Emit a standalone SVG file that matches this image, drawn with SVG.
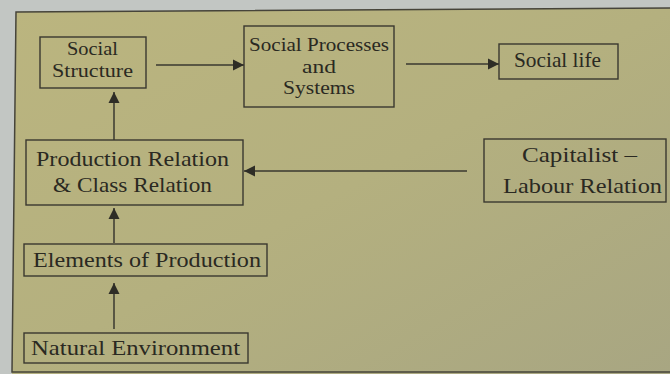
<svg xmlns="http://www.w3.org/2000/svg" width="670" height="374" viewBox="0 0 670 374">
<defs>
<linearGradient id="bg" x1="0" y1="0" x2="1" y2="1">
<stop offset="0" stop-color="#bbb57f"/>
<stop offset="0.5" stop-color="#b4b07f"/>
<stop offset="1" stop-color="#a8a682"/>
</linearGradient>
<marker id="ah" markerUnits="userSpaceOnUse" markerWidth="12" markerHeight="12" viewBox="0 0 12 12" refX="11" refY="6" orient="auto">
<path d="M0,0.5 L11,6 L0,11.5 Z" fill="#2e2d26"/>
</marker>
<style>
.box{fill:none;stroke:#3a382f;stroke-width:1.4}
.t{font-family:"Liberation Serif",serif;font-size:21.5px;fill:#2a2922}
.s{font-size:19px}
.c{stroke:#3a382f;stroke-width:1.5;fill:none;marker-end:url(#ah)}
</style>
</defs>
<rect x="0" y="0" width="670" height="374" fill="#c2c6c3"/>
<polygon points="16,12 670,8 670,374 12,374" fill="url(#bg)"/>
<polyline points="670,8 16,12 12,372 670,372" fill="none" stroke="#46443a" stroke-width="1.5"/>

<g id="connectors">
<line class="c" x1="156" y1="65" x2="244" y2="65"/>
<line class="c" x1="406" y1="64" x2="499" y2="64"/>
<line class="c" x1="467" y1="171" x2="244" y2="171"/>
<line class="c" x1="114" y1="140" x2="114" y2="92"/>
<line class="c" x1="114" y1="243" x2="114" y2="208"/>
<line class="c" x1="114" y1="329" x2="114" y2="283"/>
</g>

<g id="social-structure">
<rect class="box" x="40" y="37" width="106" height="51"/>
<text class="t s" x="67" y="55" textLength="51" lengthAdjust="spacingAndGlyphs">Social</text>
<text class="t s" x="52" y="77" textLength="81" lengthAdjust="spacingAndGlyphs">Structure</text>
</g>

<g id="social-processes">
<rect class="box" x="244" y="26" width="150" height="81"/>
<text class="t s" x="249" y="51" textLength="140" lengthAdjust="spacingAndGlyphs">Social Processes</text>
<text class="t s" x="302" y="73" textLength="34" lengthAdjust="spacingAndGlyphs">and</text>
<text class="t s" x="283" y="94" textLength="72" lengthAdjust="spacingAndGlyphs">Systems</text>
</g>

<g id="social-life">
<rect class="box" x="499" y="44" width="119" height="35"/>
<text class="t" x="514" y="67" textLength="87" lengthAdjust="spacingAndGlyphs">Social life</text>
</g>

<g id="capitalist-labour">
<rect class="box" x="484" y="139" width="182" height="63"/>
<text class="t" x="522" y="162" textLength="115" lengthAdjust="spacingAndGlyphs">Capitalist –</text>
<text class="t" x="503" y="193" textLength="159" lengthAdjust="spacingAndGlyphs">Labour Relation</text>
</g>

<g id="production-relation">
<rect class="box" x="26" y="140" width="217" height="65"/>
<text class="t" x="36" y="166" textLength="193" lengthAdjust="spacingAndGlyphs">Production Relation</text>
<text class="t" x="53" y="192" textLength="159" lengthAdjust="spacingAndGlyphs">&amp; Class Relation</text>
</g>

<g id="elements-of-production">
<rect class="box" x="24" y="244" width="243" height="32"/>
<text class="t" x="33" y="267" textLength="228" lengthAdjust="spacingAndGlyphs">Elements of Production</text>
</g>

<g id="natural-environment">
<rect class="box" x="24" y="333" width="224" height="30"/>
<text class="t" x="31" y="355" textLength="209" lengthAdjust="spacingAndGlyphs">Natural Environment</text>
</g>
</svg>
